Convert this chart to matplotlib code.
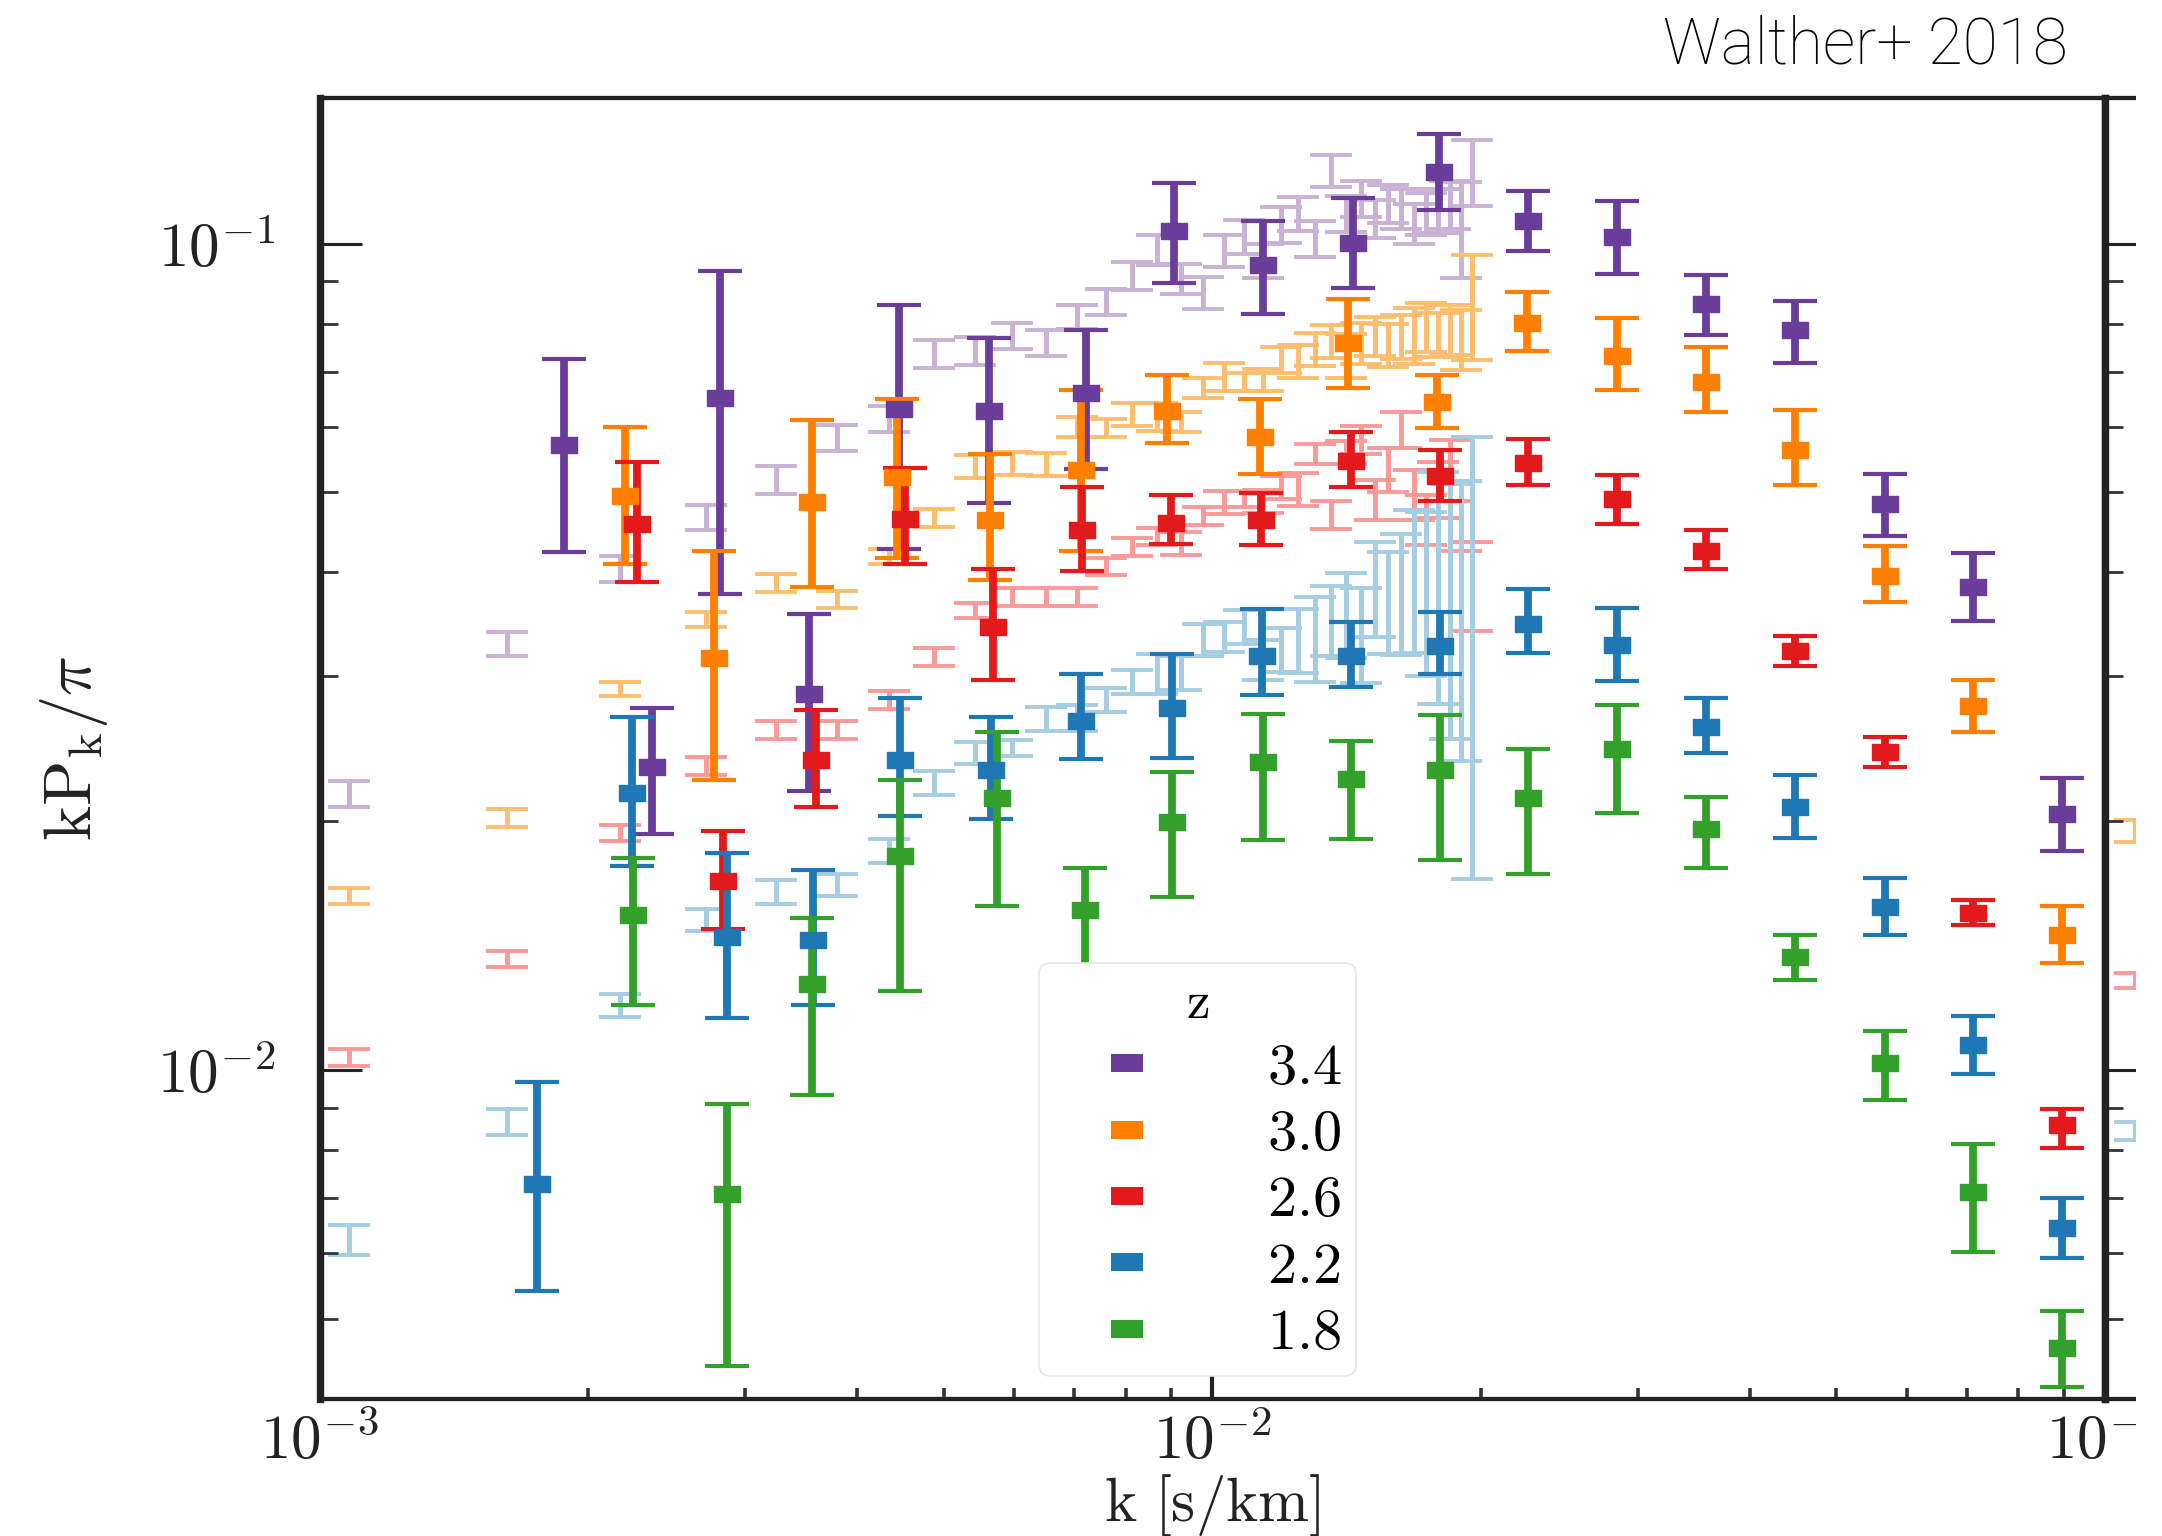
import matplotlib
matplotlib.use('Agg')
import matplotlib.pyplot as plt
from matplotlib.lines import Line2D
from matplotlib.patches import Rectangle
from matplotlib.ticker import LogLocator, NullFormatter

plt.rcParams['mathtext.fontset'] = 'cm'

# ---- Walther+ 2018 points (k [s/km], kP/pi, lower, upper) ----
k_34 = [1.877e-3, 2.357e-3, 2.813e-3, 3.538e-3, 4.459e-3, 5.618e-3, 7.224e-3, 9.056e-3, 1.140e-2,
        1.437e-2, 1.797e-2, 2.260e-2, 2.840e-2, 3.571e-2, 4.496e-2, 5.667e-2, 7.110e-2, 8.961e-2]
p_34 = [0.0571, 0.02326, 0.06508, 0.02851, 0.06313, 0.06276, 0.06587, 0.1037, 0.09412,
        0.1002, 0.1221, 0.1065, 0.1018, 0.08441, 0.07851, 0.04838, 0.03843, 0.02043]
hi_34 = [0.07259, 0.02739, 0.0927, 0.03561, 0.0842, 0.0769, 0.07851, 0.1185, 0.1066,
         0.1136, 0.1357, 0.1159, 0.1125, 0.09157, 0.08524, 0.05264, 0.04218, 0.02256]
lo_34 = [0.04233, 0.01931, 0.03765, 0.02177, 0.04275, 0.04855, 0.05341, 0.08947, 0.08209,
         0.0884, 0.1099, 0.09785, 0.09189, 0.07755, 0.07172, 0.04428, 0.03497, 0.0184]

k_30 = [2.199e-3, 2.766e-3, 3.558e-3, 4.440e-3, 5.637e-3, 7.123e-3, 8.887e-3, 1.130e-2, 1.421e-2,
        1.787e-2, 2.253e-2, 2.840e-2, 3.571e-2, 4.496e-2, 5.667e-2, 7.110e-2, 8.961e-2]
p_30 = [0.04944, 0.03156, 0.04867, 0.05216, 0.04625, 0.05326, 0.06276, 0.05836, 0.07571,
        0.0643, 0.08017, 0.07301, 0.06806, 0.05627, 0.03962, 0.02756, 0.01456]
hi_30 = [0.06001, 0.04244, 0.06111, 0.06484, 0.05561, 0.0665, 0.06941, 0.06484, 0.08565,
         0.06941, 0.08731, 0.08121, 0.07497, 0.06291, 0.04302, 0.02963, 0.01579]
lo_30 = [0.04093, 0.02245, 0.03843, 0.0416, 0.03913, 0.04242, 0.0573, 0.05264, 0.06691,
         0.05981, 0.07414, 0.06643, 0.06261, 0.05097, 0.03684, 0.02568, 0.01346]

k_26 = [2.270e-3, 2.829e-3, 3.597e-3, 4.525e-3, 5.681e-3, 7.141e-3, 8.986e-3, 1.133e-2, 1.429e-2,
        1.798e-2, 2.260e-2, 2.840e-2, 3.571e-2, 4.496e-2, 5.667e-2, 7.110e-2, 8.961e-2]
p_26 = [0.0458, 0.01694, 0.02371, 0.04638, 0.03438, 0.04498, 0.04597, 0.04625, 0.0546,
        0.05234, 0.05427, 0.04908, 0.04244, 0.03213, 0.02426, 0.01551, 0.008575]
hi_26 = [0.05446, 0.01947, 0.0273, 0.05347, 0.04035, 0.05079, 0.0497, 0.0499, 0.05908,
         0.05627, 0.058, 0.05253, 0.04498, 0.03352, 0.02531, 0.01605, 0.008979]
lo_26 = [0.03891, 0.01483, 0.02082, 0.04093, 0.02963, 0.04013, 0.04327, 0.04314, 0.05079,
         0.04885, 0.05109, 0.0458, 0.04035, 0.03084, 0.02326, 0.01496, 0.008045]

k_22 = [1.752e-3, 2.237e-3, 2.860e-3, 3.570e-3, 4.464e-3, 5.649e-3, 7.126e-3, 9.009e-3, 1.136e-2,
        1.429e-2, 1.798e-2, 2.260e-2, 2.840e-2, 3.571e-2, 4.496e-2, 5.667e-2, 7.110e-2, 8.961e-2]
p_22 = [0.007288, 0.02165, 0.0145, 0.01438, 0.02371, 0.02306, 0.02648, 0.02739, 0.03166,
        0.03166, 0.03263, 0.03468, 0.03264, 0.026, 0.02081, 0.01576, 0.01073, 0.006434]
hi_22 = [0.009673, 0.02674, 0.01833, 0.01746, 0.02823, 0.02674, 0.03018, 0.03186, 0.03608,
         0.03489, 0.03583, 0.0382, 0.03625, 0.02823, 0.02278, 0.0171, 0.01164, 0.007004]
lo_22 = [0.00541, 0.01767, 0.01157, 0.012, 0.02031, 0.02011, 0.02377, 0.02383, 0.0284,
         0.02911, 0.03018, 0.03197, 0.02955, 0.02421, 0.01911, 0.01456, 0.009886, 0.005932]

k_18 = [2.244e-3, 2.860e-3, 3.558e-3, 4.464e-3, 5.746e-3, 7.207e-3, 9.016e-3, 1.140e-2, 1.429e-2,
        1.798e-2, 2.260e-2, 2.840e-2, 3.571e-2, 4.496e-2, 5.667e-2, 7.110e-2, 8.961e-2]
p_18 = [0.01541, 0.007073, 0.01271, 0.01815, 0.02136, 0.0156, 0.01995, 0.02362, 0.02252,
        0.02306, 0.02132, 0.02444, 0.01959, 0.01371, 0.01019, 0.007112, 0.004613]
hi_18 = [0.01806, 0.009105, 0.01528, 0.02244, 0.02562, 0.01754, 0.02297, 0.027, 0.02501,
         0.0269, 0.02449, 0.02762, 0.02139, 0.01456, 0.01116, 0.008142, 0.00511]
lo_18 = [0.012, 0.004384, 0.009339, 0.01247, 0.01579, 0.01314, 0.0162, 0.019, 0.01904,
         0.01793, 0.01729, 0.02048, 0.01757, 0.01285, 0.009192, 0.006019, 0.004136]

# ---- BOSS points drawn in light colours (value, relative error) ----
boss_k = [0.00108, 0.00162, 0.00217, 0.00271, 0.00325, 0.00380, 0.00434, 0.00488, 0.00542,
          0.00597, 0.00651, 0.00705, 0.00760, 0.00814, 0.00868, 0.00923, 0.00977, 0.01031,
          0.01085, 0.01140, 0.01194, 0.01248, 0.01303, 0.01357, 0.01411, 0.01466, 0.01520,
          0.01574, 0.01628, 0.01683, 0.01737, 0.01791, 0.01846, 0.01900, 0.01954]
boss_34 = [0.02159, 0.03282, 0.04046, 0.04665, 0.05172, 0.05816, 0.06133, 0.07353, 0.07415,
           0.0773, 0.07581, 0.08153, 0.08502, 0.09142, 0.09829, 0.09065, 0.08717, 0.09802,
           0.1019, 0.09532, 0.1054, 0.1087, 0.1013, 0.1225, 0.1087, 0.1133, 0.1072,
           0.1117, 0.1102, 0.1057, 0.1087, 0.1096, 0.1117, 0.1048, 0.1222]
rel_34 = [0.036, 0.033, 0.036, 0.036, 0.039, 0.036, 0.036, 0.039, 0.039, 0.036, 0.036, 0.033,
          0.036, 0.039, 0.042, 0.042, 0.045, 0.045, 0.047, 0.047, 0.05, 0.047, 0.05, 0.045,
          0.05, 0.05, 0.053, 0.053, 0.056, 0.056, 0.059, 0.061, 0.067, 0.134, 0.092]
boss_30 = [0.01624, 0.02019, 0.02894, 0.0351, 0.0389, 0.03711, 0.04183, 0.04652, 0.05377,
           0.05422, 0.05407, 0.05995, 0.05979, 0.06217, 0.06166, 0.06081, 0.06686, 0.06894,
           0.06799, 0.06837, 0.07228, 0.07208, 0.07454, 0.07622, 0.0733, 0.07581, 0.0773,
           0.07539, 0.0773, 0.07753, 0.07932, 0.07774, 0.07886, 0.07665, 0.0845]
rel_30 = [0.022, 0.025, 0.02, 0.022, 0.025, 0.025, 0.022, 0.025, 0.033, 0.033, 0.033, 0.028,
          0.025, 0.033, 0.039, 0.028, 0.028, 0.039, 0.025, 0.031, 0.036, 0.045, 0.045, 0.047,
          0.061, 0.056, 0.053, 0.059, 0.061, 0.078, 0.067, 0.061, 0.07, 0.084, 0.145]
boss_26 = [0.01036, 0.01363, 0.01936, 0.02334, 0.02581, 0.02581, 0.02807, 0.03165, 0.03598,
           0.03741, 0.03741, 0.03741, 0.04068, 0.0429, 0.04423, 0.04337, 0.04677, 0.04864,
           0.04905, 0.04878, 0.05072, 0.05044, 0.0556, 0.04704, 0.05591, 0.05782, 0.04905,
           0.05333, 0.05963, 0.04973, 0.04638, 0.05044, 0.05333, 0.04704, 0.03879]
rel_26 = [0.025, 0.022, 0.022, 0.025, 0.025, 0.025, 0.025, 0.025, 0.022, 0.025, 0.025, 0.025,
          0.025, 0.025, 0.025, 0.033, 0.025, 0.031, 0.022, 0.033, 0.033, 0.047, 0.028, 0.039,
          0.033, 0.039, 0.056, 0.061, 0.05, 0.07, 0.07, 0.078, 0.084, 0.098, 0.123]
boss_22 = [0.006237, 0.008669, 0.01198, 0.01519, 0.01642, 0.01675, 0.01841, 0.02227, 0.02421,
           0.02455, 0.02661, 0.02669, 0.02807, 0.02951, 0.03018, 0.03027, 0.03319, 0.03347,
           0.03441, 0.03139, 0.03228, 0.03319, 0.03338, 0.0351, 0.03569, 0.03384, 0.03847,
           0.03711, 0.03817, 0.03979, 0.03869, 0.04035, 0.03817, 0.03763, 0.03766]
rel_22 = [0.042, 0.036, 0.033, 0.031, 0.033, 0.031, 0.033, 0.033, 0.031, 0.022, 0.033, 0.036,
          0.033, 0.033, 0.056, 0.047, 0.045, 0.042, 0.047, 0.056, 0.061, 0.089, 0.118, 0.098,
          0.118, 0.132, 0.132, 0.14, 0.168, 0.197, 0.225, 0.312, 0.341, 0.371, 0.548]

# first BOSS bin of the neighbouring (cropped) panel
next_k = [0.00108]
next_30 = [0.01947]
next_26 = [0.01284]
next_22 = [0.008453]

z_labels = ['3.4', '3.0', '2.6', '2.2', '1.8']
dark = ['#6a3d9a', '#ff7f00', '#e31a1c', '#1f78b4', '#33a02c']
light = ['#cab2d6', '#fdbf6f', '#fb9a99', '#a6cee3']

W, H = 2162, 1536
fig = plt.figure(figsize=(W / 100, H / 100), dpi=100)
pos = [319.5 / W, 1 - 1399 / H, (2105 - 319.5) / W, (1399 - 98) / H]
ax = fig.add_axes(pos)
ax2 = fig.add_axes([2105 / W, pos[1], pos[2], pos[3]])

rect = [(-1, -0.6), (1, -0.6), (1, 0.6), (-1, 0.6), (-1, -0.6)]
rect_leg = [(-1, -0.56), (1, -0.56), (1, 0.56), (-1, 0.56), (-1, -0.56)]


def light_bars(a, k, vals, rel, c):
    err = [v * r for v, r in zip(vals, rel)]
    a.errorbar(k, vals, yerr=err, fmt='none', ecolor=c, elinewidth=3.6,
               capsize=15, capthick=2.8, zorder=1)


light_bars(ax, boss_k, boss_34, rel_34, light[0])
light_bars(ax, boss_k, boss_30, rel_30, light[1])
light_bars(ax, boss_k, boss_26, rel_26, light[2])
light_bars(ax, boss_k, boss_22, rel_22, light[3])

light_bars(ax2, next_k, next_30, [0.03], light[1])
light_bars(ax2, next_k, next_26, [0.022], light[2])
light_bars(ax2, next_k, next_22, [0.025], light[3])

series = [(k_34, p_34, lo_34, hi_34), (k_30, p_30, lo_30, hi_30), (k_26, p_26, lo_26, hi_26),
          (k_22, p_22, lo_22, hi_22), (k_18, p_18, lo_18, hi_18)]
for (k, p, lo, hi), c in zip(series, dark):
    yerr = [[a - b for a, b in zip(p, lo)], [b - a for a, b in zip(p, hi)]]
    ax.errorbar(k, p, yerr=yerr, marker=rect, ms=18.5, ls='none', color=c,
                elinewidth=5.6, capsize=16, capthick=3, zorder=3)

for a in (ax, ax2):
    a.set_xscale('log')
    a.set_yscale('log')
    a.set_xlim(1e-3, 1e-1)
    a.set_ylim(0.004, 0.15)
    a.yaxis.set_minor_locator(LogLocator(base=10, subs=range(2, 10), numticks=20))
    a.yaxis.set_minor_formatter(NullFormatter())
    a.xaxis.set_minor_locator(LogLocator(base=10, subs=range(2, 10), numticks=20))
    a.xaxis.set_minor_formatter(NullFormatter())
    for s in ('top', 'bottom'):
        a.spines[s].set_linewidth(3.1)
        a.spines[s].set_color('#222222')
    for s in ('left', 'right'):
        a.spines[s].set_linewidth(5.3)
        a.spines[s].set_color('#222222')
    a.tick_params(axis='y', which='major', direction='in', length=30, width=2.2,
                  color='#222222', right=False)
    a.tick_params(axis='y', which='minor', direction='in', length=13, width=2.0,
                  color='#333333', right=False)
    a.tick_params(axis='x', which='major', direction='in', length=17, width=3.0,
                  color='#222222', top=False)
    a.tick_params(axis='x', which='minor', direction='in', length=8, width=2.6,
                  color='#333333', top=False)

ax.set_yticks([1e-2, 1e-1])
ax.set_yticklabels([r'$10^{-2}$', r'$10^{-1}$'])
ax.set_xticks([1e-3, 1e-2, 1e-1])
ax.set_xticklabels([r'$10^{-3}$', r'$10^{-2}$', r'$10^{-1}$'])
ax.tick_params(axis='y', which='major', labelsize=44, pad=32, labelcolor='#222222')
ax.tick_params(axis='x', which='major', labelsize=44, pad=10, labelcolor='#222222')
ax2.tick_params(labelleft=False, labelbottom=False)

ax.set_xlabel(r'$\mathrm{k\ [s/km]}$', fontsize=44, labelpad=0, color='#222222')
ax.set_ylabel(r'$\mathrm{kP_k}/\pi$', fontsize=48, labelpad=34, color='#222222')

handles = [Line2D([], [], ls='none', marker=rect_leg, ms=23, mew=0, color=c) for c in dark]
leg = ax.legend(handles, ['$' + s + '$' for s in z_labels], title=r'$\mathrm{z}$',
                loc='lower left', bbox_to_anchor=(0.403, 0.018), fontsize=42,
                title_fontsize=38, frameon=True, fancybox=True, framealpha=1,
                borderpad=0.25, handlelength=2.5, handletextpad=1.15,
                labelspacing=0.16, borderaxespad=0)
leg.get_frame().set_edgecolor('#e6e6e6')
leg.get_frame().set_linewidth(1.2)

fig.text(2068 / W, 1 - 46 / H, 'Walther+ 2018', ha='right', va='center',
         fontsize=46, family='Roboto', fontweight='light', color='black')

# the source image is cut off here
fig.add_artist(Rectangle((2136 / W, 0), 1, 1, transform=fig.transFigure,
                         facecolor='white', edgecolor='none', zorder=10))

fig.savefig('out.png', dpi=100)
